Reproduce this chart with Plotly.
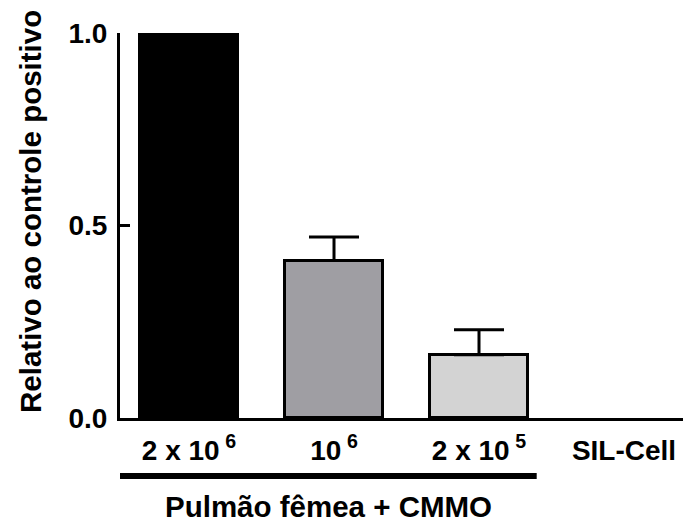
import plotly.graph_objects as go

# ---- data ----
categories = ["2 x 10^6", "10^6", "2 x 10^5", "SIL-Cell"]
tick_labels = ["2 x 10\u2009<sup>6</sup>", "10\u2009<sup>6</sup>", "2 x 10\u2009<sup>5</sup>", "SIL-Cell"]
values = [1.0, 0.409, 0.164, 0.0]
errors_up = [None, 0.061, 0.065, None]
bar_colors = ["#000000", "#9f9ea3", "#d3d3d3", "rgba(0,0,0,0)"]
y_ticks = [0.0, 0.5, 1.0]

W, H = 683, 525
ML, MR, MT, MB = 120, 0, 33, 107
PW, PH = W - ML - MR, H - MT - MB

FONT = "Liberation Sans, Arial, Helvetica, sans-serif"

xpos = list(range(len(categories)))
x_range = [-0.476, 3.407]
bar_w = 0.676


def px_to_paper_y(py):
    return (H - MB - py) / PH


def px_to_paper_x(px):
    return (px - ML) / PW


fig = go.Figure()
fig.add_trace(go.Bar(
    x=xpos,
    y=values,
    width=bar_w,
    marker=dict(color=bar_colors,
                line=dict(color="black", width=[3 if v > 0 else 0 for v in values])),
    showlegend=False,
    cliponaxis=False,
))

# upward-only error bars, only where an error exists
err_idx = [i for i, e in enumerate(errors_up) if e is not None]
fig.add_trace(go.Scatter(
    x=[xpos[i] for i in err_idx],
    y=[values[i] for i in err_idx],
    mode="markers",
    marker=dict(size=0.1, color="rgba(0,0,0,0)"),
    error_y=dict(type="data", symmetric=False,
                 array=[errors_up[i] for i in err_idx],
                 arrayminus=[0 for _ in err_idx],
                 color="black", thickness=3, width=25),
    showlegend=False,
    hoverinfo="skip",
    cliponaxis=False,
))

bracket_x0 = x_range[0] - 0.015
bracket_x1 = 2 + bar_w / 2 + 0.06

# group bracket under first three categories
fig.add_shape(type="line", xref="x", yref="paper",
              x0=bracket_x0, x1=bracket_x1,
              y0=px_to_paper_y(476), y1=px_to_paper_y(476),
              line=dict(color="black", width=6))

fig.add_annotation(text="<b>Pulmão fêmea + CMMO</b>", xref="x", yref="paper",
                   x=(bracket_x0 + bracket_x1) / 2 + 0.01, y=px_to_paper_y(506),
                   xanchor="center", yanchor="middle", showarrow=False,
                   font=dict(family=FONT, size=29.5, color="black"))

fig.add_annotation(text="<b>Relativo ao controle positivo</b>", xref="paper", yref="paper",
                   x=px_to_paper_x(30), y=px_to_paper_y(212),
                   xanchor="center", yanchor="middle", textangle=-90, showarrow=False,
                   font=dict(family=FONT, size=29.5, color="black"))

fig.update_layout(
    width=W, height=H,
    margin=dict(l=ML, r=MR, t=MT, b=MB, pad=0),
    paper_bgcolor="white", plot_bgcolor="white",
    bargap=0,
    xaxis=dict(range=x_range, tickvals=xpos,
               ticktext=["<b>" + t + "</b>" for t in tick_labels],
               showline=True, linecolor="black", linewidth=3,
               ticks="", showgrid=False, zeroline=False,
               tickfont=dict(family=FONT, size=28, color="black"),
               ticklabelstandoff=5),
    yaxis=dict(range=[0, 1.0], tickvals=y_ticks,
               ticktext=["<b>%.1f</b>" % v for v in y_ticks],
               showline=True, linecolor="black", linewidth=3,
               ticks="inside", ticklen=10, tickwidth=3, tickcolor="black",
               showgrid=False, zeroline=False,
               tickfont=dict(family=FONT, size=28, color="black"),
               ticklabelstandoff=4),
)

fig.write_html("out.html",
               config={"displayModeBar": False},
               post_script="document.body.style.margin='0px';"
                           "document.body.style.overflow='hidden';")
